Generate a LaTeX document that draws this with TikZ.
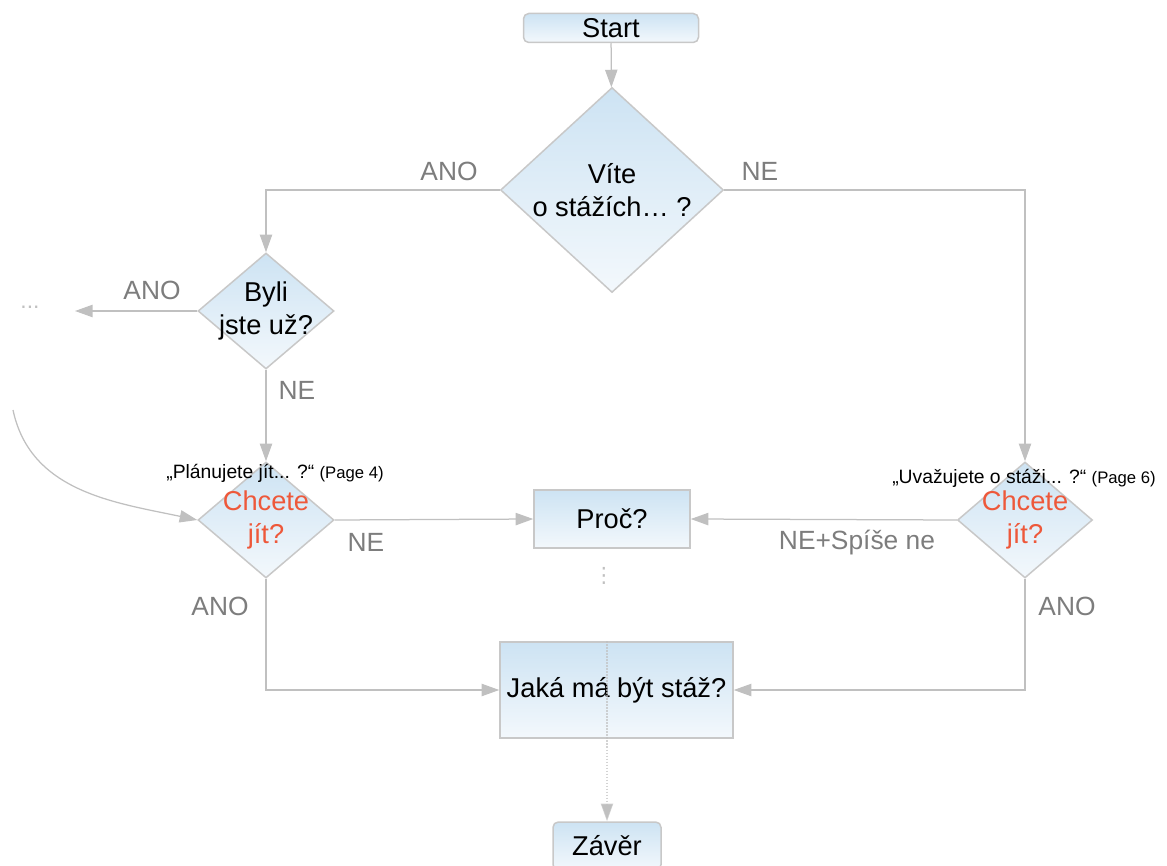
\documentclass[tikz,border=0pt]{standalone}
\usepackage{fontspec}
\setmainfont{Liberation Sans}
\newfontfamily\symfont{DejaVu Sans}
\usetikzlibrary{shapes.geometric,arrows.meta}
\definecolor{boxtop}{RGB}{205,227,243}
\definecolor{boxbot}{RGB}{243,248,252}
\definecolor{boxline}{RGB}{200,200,200}
\definecolor{wire}{RGB}{192,192,192}
\definecolor{answer}{RGB}{125,125,125}
\definecolor{askred}{RGB}{238,88,58}

\begin{document}
\begin{tikzpicture}
% Define the node styles
\tikzstyle{block} = [draw=boxline, line width=.03cm, top color=boxtop, bottom color=boxbot, inner sep=0pt, font=\fontsize{15.5}{18.5}\selectfont, align=center]
\tikzstyle{terminal} = [block, rectangle, rounded corners=3pt]
\tikzstyle{task} = [block, rectangle]
\tikzstyle{question} = [block, diamond]
\tikzstyle{answer} = [text=answer, font=\fontsize{15}{18}\selectfont]
\tikzstyle{source} = [font=\fontsize{11}{13}\selectfont]
\tikzstyle{wire} = [draw=wire, line width=.025cm, -{Triangle[length=10pt,width=7pt]}]

\useasboundingbox (0,0) rectangle (23.34,-17.32);

% Define the nodes
\node[terminal, minimum width=3.5cm, minimum height=.58cm] (start) at (12.22,-0.56) {Start};
\node[question, minimum width=4.46cm, minimum height=4.1cm, label={[align=center, font=\fontsize{15.5}{18.5}\selectfont]center:Víte\\o stážích… ?}] (vite) at (12.24,-3.8) {};
\node[question, minimum width=2.72cm, minimum height=2.32cm, label={[align=center, font=\fontsize{15.5}{18.5}\selectfont]center:Byli\\jste už?}] (byli) at (5.32,-6.22) {};
\node[question, minimum width=2.72cm, minimum height=2.32cm, label={[align=center, text=askred, font=\fontsize{15.5}{18.5}\selectfont]center:Chcete\\jít?}] (chceteL) at (5.32,-10.4) {};
\node[question, minimum width=2.7cm, minimum height=2.32cm, label={[align=center, text=askred, font=\fontsize{15.5}{18.5}\selectfont]center:Chcete\\jít?}] (chceteR) at (20.5,-10.4) {};
\node[task, minimum width=3.12cm, minimum height=1.16cm] (proc) at (12.24,-10.38) {Proč?};
\node[task, minimum width=4.66cm, minimum height=1.92cm] (jaka) at (12.33,-13.8) {Jaká má být stáž?};
\node[terminal, minimum width=2.16cm, minimum height=.96cm] (zaver) at (12.14,-16.92) {Závěr};

\node[source] (planL) at (5.5,-9.46) {„Plánujete jít... ?“ {\fontsize{9.5}{11}\selectfont(Page 4)}};
\node[source] (planR) at (20.48,-9.56) {„Uvažujete o stáži... ?“ {\fontsize{9.5}{11}\selectfont(Page 6)}};
\node[text=wire, font=\fontsize{13}{15}\selectfont] (more) at (0.6,-6.14) {...};
\node[text=wire, font=\symfont\fontsize{12}{14}\selectfont] (dots) at (12.08,-11.52) {⋮};
\coordinate (yes) at (1.5,-6.22);
\coordinate (back) at (0.26,-8.2);

% Define the transitions
\draw[wire] (start) -- (vite);
\draw[wire] (vite.west) -| (byli.north);
\draw[wire] (vite.east) -| (chceteR.north);
\draw[wire] (byli.west) -- (yes);
\draw[wire] (byli.south) -- (chceteL.north);
\draw[wire] (back) to[out=-78, in=168] (chceteL.west);
\draw[wire] (chceteL.east) -- (proc.west);
\draw[wire] (chceteR.west) -- (proc.east);
\draw[wire] (chceteL.south) |- (jaka.west);
\draw[wire] (chceteR.south) |- (jaka.east);
\draw[wire, densely dotted, draw opacity=.7] (zaver.north |- jaka.north) -- (zaver.north);

% Add the answer labels
\node[answer] at (8.98,-3.42) {ANO};
\node[answer] at (15.2,-3.42) {NE};
\node[answer] at (3.04,-5.8) {ANO};
\node[answer] at (5.94,-7.8) {NE};
\node[answer] at (7.32,-10.84) {NE};
\node[answer] at (17.14,-10.86) {NE+Spíše ne};
\node[answer] at (4.4,-12.12) {ANO};
\node[answer] at (21.34,-12.12) {ANO};

\end{tikzpicture}
\end{document}
